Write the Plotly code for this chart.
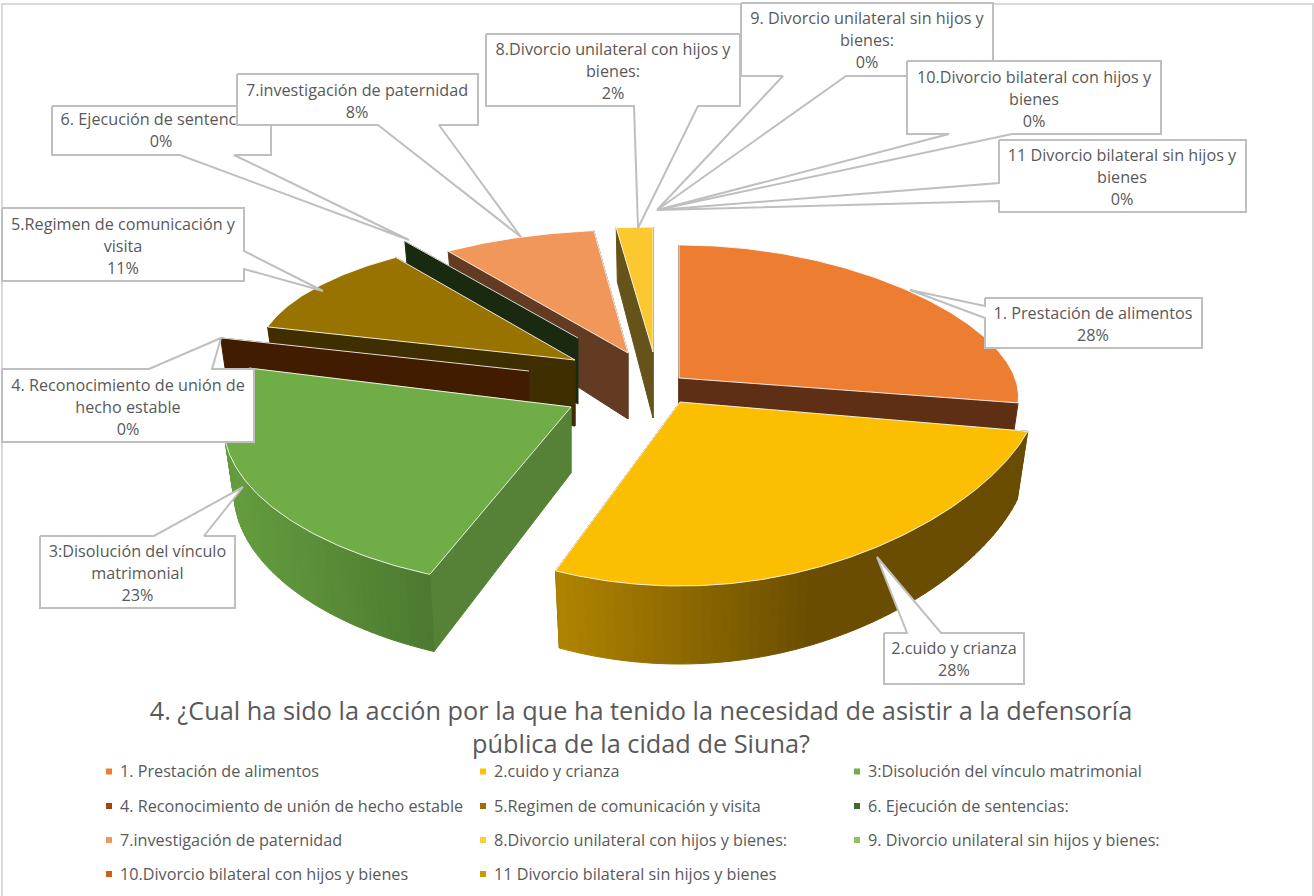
import math
import plotly.graph_objects as go

# ---------- data ----------
categories = ["1. Prestación de alimentos", "2.cuido y crianza", "3:Disolución del vínculo matrimonial",
              "4. Reconocimiento de unión de hecho estable", "5.Regimen de comunicación y visita",
              "6. Ejecución de sentencias:", "7.investigación de paternidad",
              "8.Divorcio unilateral con hijos y bienes:", "9. Divorcio unilateral sin hijos y bienes:",
              "10.Divorcio bilateral con hijos y bienes", "11 Divorcio bilateral sin hijos y bienes"]
values = [28.0, 28.0, 23.3, 0, 11.2, 0, 7.8, 1.7, 0, 0, 0]
legend_colors = ["#ED7D31", "#FFC000", "#70AD47", "#9E480E", "#997300", "#43682B",
                 "#F1975A", "#FFCD33", "#8CC168", "#D26012", "#CC9A00"]
title_text = ("4. ¿Cual ha sido la acción por la que ha tenido la necesidad de asistir a la defensoría"
              "<br>pública de la cidad de Siuna?")

# ---------- styling / view of the exploded 3-D pie ----------
FONT = "Open Sans"
TXT = "#595959"
EDGE = "#BFBFBF"
top_colors = ["#ED7D31", "#FBBE00", "#70AD47", "#9E480E", "#997300", "#43682B", "#F1975A", "#FBC92F"]
side_colors = ["#5E2F15", "#6A4D00", "#558236", "#411C00", "#3F2F00", "#1A2A10", "#633A22", "#66531A"]
# slice -> apex x, apex y, a, a-growth, b, b-growth
view = {0: (679, 378, 336, .146, 133, 0), 1: (680, 402, 358, -.06, 150, 34), 2: (571, 407, 345, .12, 153.5, 28.5),
        3: (529, 371, 320, 0, 124, 0), 4: (575, 360, 319, 0, 124, 0), 5: (578, 338, 308, 0, 117, 0),
        6: (628, 353, 320, 0, 123, 0), 7: (653, 352, 345, 0, 125, 0)}
paint_order = [7, 6, 5, 4, 3, 2, 0, 1]
D0, D1, SHRINK = 66, 12, .97

total = sum(values)
starts, acc = [], 0
for v in values:
    starts.append(acc / total * 360)
    acc += v


def top(i, deg):
    cx, cy, a, av, b, bv = view[i]
    t = math.radians(deg)
    w = -math.cos(t)
    return cx + a * (1 + av * w) * math.sin(t), cy + w * (b + bv * w)


def bottom(i, deg):
    cx, cy = view[i][:2]
    x, y = top(i, deg)
    w = -math.cos(math.radians(deg))
    return cx + (x - cx) * SHRINK, y + D0 + D1 * w


def poly(pts, fill, line=None, width=1, name=None):
    xs = [p[0] for p in pts] + [pts[0][0]]
    ys = [p[1] for p in pts] + [pts[0][1]]
    return go.Scatter(x=xs, y=ys, mode="lines", fill="toself", fillcolor=fill,
                      line=dict(color=line or fill, width=width), hoverinfo="skip",
                      name=name or "", showlegend=False)


def mix(c1, c2, f):
    f = max(0, min(1, f))
    return "rgb(%d,%d,%d)" % tuple(c1[k] + (c2[k] - c1[k]) * f for k in range(3))


fig = go.Figure()
for i in paint_order:
    s = starts[i]
    e = s + values[i] / total * 360
    cx, cy = view[i][:2]
    apex_top, apex_bot = (cx, cy), (cx, cy + D0)
    fig.add_trace(poly([apex_top, top(i, s), bottom(i, s), apex_bot], side_colors[i], name=categories[i]))
    if values[i]:
        fig.add_trace(poly([apex_top, top(i, e), bottom(i, e), apex_bot], side_colors[i], name=categories[i]))
    if i in (1, 2):
        n = 60
        for k in range(n):
            d0 = s + (e - s) * k / n
            d1 = s + (e - s) * (k + 1) / n
            x = top(i, (d0 + d1) / 2)[0]
            if i == 1:
                col = mix((176, 132, 0), (106, 77, 0), (x - 556) / 260)
            else:
                col = mix((100, 155, 62), (76, 122, 48), (x - 240) / 190)
            fig.add_trace(poly([top(i, d0), top(i, d1), bottom(i, d1), bottom(i, d0)], col))
    if values[i]:
        n = max(4, int((e - s) * 1.5))
        arc = [top(i, s + (e - s) * k / n) for k in range(n + 1)]
        fig.add_trace(poly([apex_top] + arc, top_colors[i], line="rgba(255,255,255,.85)", name=categories[i]))
    else:
        p = top(i, s)
        fig.add_trace(go.Scatter(x=[cx, p[0]], y=[cy, p[1]], mode="lines", showlegend=False,
                                 line=dict(color="rgba(255,255,255,.85)", width=1), hoverinfo="skip"))

# ---------- callouts: category index, outline, text centre x, text first-line y ----------
boxes = [
    (0, [(985, 298), (1202, 298), (1202, 348), (985, 348), (985, 318), (910, 290), (985, 306)], 1093, 314.5),
    (1, [(884, 633), (907, 633), (877, 557), (941, 633), (1024, 633), (1024, 684), (884, 684)], 954, 649.5),
    (2, [(40, 536), (154, 536), (243, 487), (204, 536), (235, 536), (235, 608), (40, 608)], 137.5, 552.5),
    (3, [(2, 369), (149, 369), (221, 338), (212, 369), (254, 369), (254, 442), (2, 442)], 128, 386.5),
    (4, [(2, 208), (244, 208), (244, 251), (323, 291), (244, 269), (244, 281), (2, 281)], 123, 225.5),
    (5, [(52, 106), (271, 106), (271, 155), (234, 155), (409, 240), (180, 155), (52, 155)], 161, 120.5),
    (6, [(237, 74), (478, 74), (478, 125), (439, 125), (521, 237), (378, 125), (237, 125)], 357, 91.5),
    (7, [(486, 34), (740, 34), (740, 106), (698, 106), (638, 228), (634, 106), (486, 106)], 613, 50.5),
    (8, [(741, 3), (993, 3), (993, 76), (846, 76), (657, 210), (783, 76), (741, 76)], 867, 19.5),
    (9, [(907, 61), (1161, 61), (1161, 134), (1012, 134), (657, 210), (949, 134), (907, 134)], 1034, 78.5),
    (10, [(999, 140), (1246, 140), (1246, 212), (999, 212), (999, 201), (657, 210), (999, 183)], 1122, 156.5),
]
wraps = {2: ("3:Disolución del vínculo", "matrimonial"), 3: ("4. Reconocimiento de unión de", "hecho estable"),
         4: ("5.Regimen de comunicación y", "visita"), 7: ("8.Divorcio unilateral con hijos y", "bienes:"),
         8: ("9. Divorcio unilateral sin hijos y", "bienes:"), 9: ("10.Divorcio bilateral con hijos y", "bienes"),
         10: ("11 Divorcio bilateral sin hijos y", "bienes")}

for idx, outline, tx, ty in boxes:
    fig.add_trace(poly(outline, "white", line=EDGE, width=2, name=categories[idx]))
    lines = list(wraps.get(idx, (categories[idx],))) + ["%d%%" % round(values[idx] / total * 100)]
    fig.add_trace(go.Scatter(x=[tx] * len(lines), y=[ty + 22 * k for k in range(len(lines))],
                             mode="text", text=lines, textposition="middle center", showlegend=False,
                             textfont=dict(family=FONT, size=16.2, color=TXT), hoverinfo="skip"))

# ---------- legend grid ----------
leg_x = [109, 483, 857]
leg_y = [771.5, 806, 840, 874]
for k, (name, col) in enumerate(zip(categories, legend_colors)):
    fig.add_trace(go.Scatter(x=[leg_x[k % 3]], y=[leg_y[k // 3]], mode="markers", name=name, showlegend=False,
                             marker=dict(symbol="square", size=6, color=col), hoverinfo="skip"))
    fig.add_trace(go.Scatter(x=[leg_x[k % 3] + 11], y=[leg_y[k // 3] + 1.5], mode="text", text=[name],
                             textposition="middle right", name=name, showlegend=False,
                             textfont=dict(family=FONT, size=16.2, color=TXT), hoverinfo="skip"))

fig.update_layout(
    width=1314, height=896, margin=dict(l=0, r=0, t=0, b=0),
    paper_bgcolor="white", plot_bgcolor="white", showlegend=False,
    title=dict(text=title_text, x=641 / 1314, xanchor="center", y=1 - 720 / 896, yanchor="middle",
               font=dict(family=FONT, size=25.3, color=TXT)),
    xaxis=dict(range=[0, 1314], visible=False, fixedrange=True),
    yaxis=dict(range=[896, 0], visible=False, fixedrange=True),
    shapes=[dict(type="rect", xref="x", yref="y", x0=2, y0=4, x1=1313, y1=905, line=dict(color="#D9D9D9", width=2), layer="below")],
)
fig.write_html("out.html", config={"displayModeBar": False},
               post_script="document.body.style.margin='0';document.body.style.overflow='hidden';")
